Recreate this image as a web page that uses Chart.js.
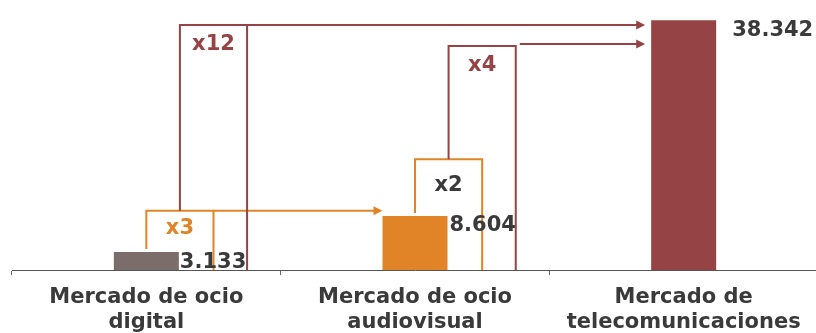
<!DOCTYPE html>
<html>
<head>
<meta charset="utf-8">
<script src="https://cdn.jsdelivr.net/npm/chart.js@4"></script>
<style>
    html, body { margin: 0; padding: 0; background: #fff; overflow: hidden; }
</style>
</head>
<body>
<canvas id="chart" width="818" height="333"></canvas>
<script>
const categories = [
    ['Mercado de ocio', 'digital'],
    ['Mercado de ocio', 'audiovisual'],
    ['Mercado de', 'telecomunicaciones']
];
const values = [3133, 8604, 38342];
const valueLabels = ['3.133', '8.604', '38.342'];

// comparison boxes: which bar they start from, how many times its value, and where the arrow points
const boxCategories = [0, 0, 1, 1];
const boxMultiples = [3, 12, 2, 4];
const boxLabels = ['x3', 'x12', 'x2', 'x4'];
const boxTargets = [1, 2, null, 2];

const GREY = '#7b6d69';
const ORANGE = '#e08427';
const RED = '#954345';
const TEXT = '#3a3a3a';
const FONT = 'bold 21px "DejaVu Sans"';

const boxStyles = [
    { color: ORANGE, text: ORANGE, inner: true, tipGap: 0 },
    { color: RED, text: RED, inner: false, tipGap: 6 },
    { color: ORANGE, text: TEXT, inner: true },
    { color: RED, text: RED, inner: false, tipGap: 6, startGap: 4, raise: 2 }
];
const labelOffsets = [1, 2, 16];

const annotations = {
    id: 'annotations',
    afterDatasetsDraw(chart) {
        const ctx = chart.ctx;
        const xs = chart.scales.x;
        const ys = chart.scales.y;
        const bars = chart.getDatasetMeta(0).data;
        const axisY = chart.chartArea.bottom;
        let innerTop = null;

        ctx.save();
        ctx.lineWidth = 2;
        ctx.font = FONT;
        ctx.textAlign = 'center';
        ctx.textBaseline = 'alphabetic';

        boxCategories.forEach((cat, i) => {
            const st = boxStyles[i];
            const base = values[cat];
            const top = ys.getPixelForValue(base * boxMultiples[i]);
            const left = xs.getPixelForValue(cat + (st.inner ? 0 : 0.125));
            const right = xs.getPixelForValue(cat + (st.inner ? 0.25 : 0.375));
            const barTop = bars[cat].y;
            const leftBottom = st.inner ? barTop - 3 : innerTop;

            ctx.strokeStyle = st.color;
            ctx.beginPath();
            ctx.moveTo(left, leftBottom);
            ctx.lineTo(left, top);
            ctx.lineTo(right, top);
            ctx.lineTo(right, axisY);
            ctx.stroke();

            if (boxTargets[i] !== null) {
                const tb = bars[boxTargets[i]];
                const x1 = right + (st.startGap || 0);
                const x2 = tb.x - tb.width / 2 - st.tipGap;
                const y = top - (st.raise || 0);
                ctx.fillStyle = st.color;
                ctx.beginPath();
                ctx.moveTo(x1, y);
                ctx.lineTo(x2 - 8, y);
                ctx.stroke();
                ctx.beginPath();
                ctx.moveTo(x2, y);
                ctx.lineTo(x2 - 9, y - 4.5);
                ctx.lineTo(x2 - 9, y + 4.5);
                ctx.closePath();
                ctx.fill();
            }

            const ty = st.inner ? top + 0.56 * (barTop - top) : top + 25;
            ctx.fillStyle = st.text;
            ctx.fillText(boxLabels[i], (left + right) / 2, ty);

            if (st.inner) innerTop = top;
        });

        ctx.textAlign = 'left';
        ctx.fillStyle = TEXT;
        bars.forEach((bar, i) => {
            ctx.fillText(valueLabels[i], bar.x + bar.width / 2 + labelOffsets[i], bar.y + 15.5);
        });
        ctx.restore();
    }
};

new Chart(document.getElementById('chart'), {
    type: 'bar',
    data: {
        labels: categories,
        datasets: [{
            data: values,
            backgroundColor: [GREY, ORANGE, RED],
            borderWidth: 0,
            barPercentage: 0.242,
            categoryPercentage: 1
        }]
    },
    options: {
        responsive: false,
        animation: false,
        devicePixelRatio: 1,
        layout: { padding: { left: 12, right: 0, top: 0, bottom: 0 } },
        plugins: { legend: { display: false }, tooltip: { enabled: false } },
        scales: {
            x: {
                offset: true,
                grid: { offset: true, drawOnChartArea: false, drawTicks: true, tickLength: 5, color: '#666', lineWidth: 1 },
                border: { display: true, color: '#555', width: 1 },
                ticks: {
                    color: TEXT,
                    font: { family: 'DejaVu Sans', size: 21, weight: 'bold' },
                    padding: 10,
                    maxRotation: 0,
                    autoSkip: false
                },
                afterFit: (s) => { s.height = 63; }
            },
            y: {
                display: false,
                min: 400,
                max: 41400
            }
        }
    },
    plugins: [annotations]
});
</script>
</body>
</html>
